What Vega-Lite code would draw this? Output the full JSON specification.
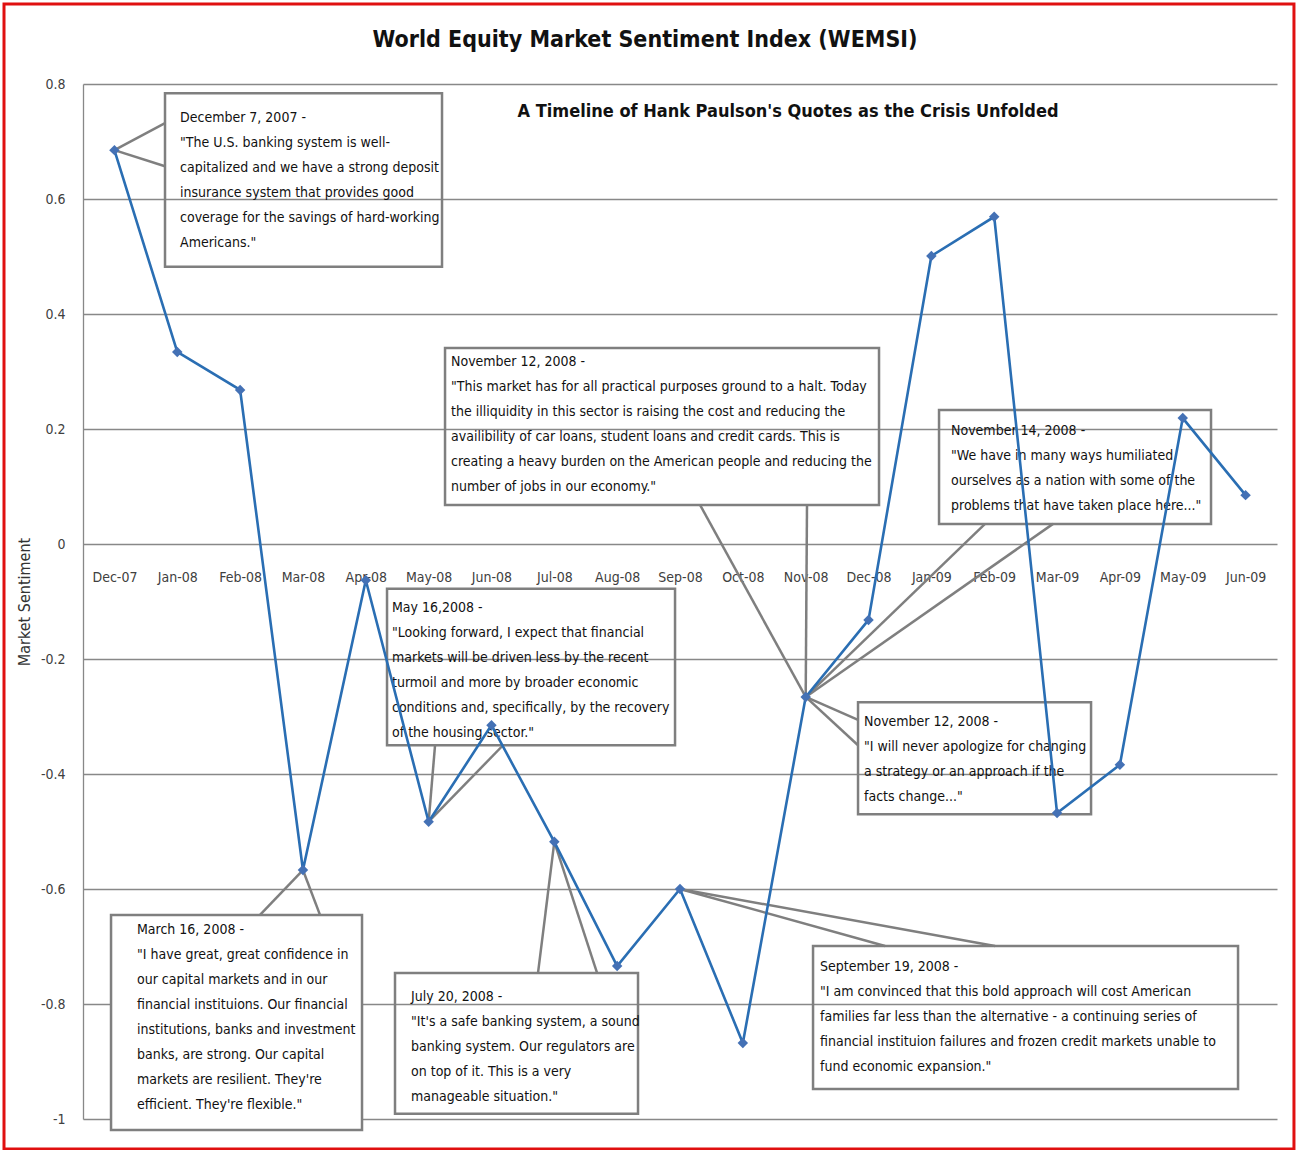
{
  "$schema": "https://vega.github.io/schema/vega-lite/v6.json",
  "width": 1194,
  "height": 1035,
  "autosize": {"type": "none"},
  "padding": {"left": 83, "top": 84, "right": 21, "bottom": 31},
  "background": "white",
  "config": {
    "font": "DejaVu Sans Condensed, sans-serif",
    "view": {"stroke": null},
    "axisY": {
      "titleFontSize": 16,
      "titleFontWeight": "normal",
      "titleColor": "#333333",
      "titlePadding": 8,
      "labelFontSize": 14,
      "labelColor": "#404040",
      "labelPadding": 18,
      "ticks": false,
      "domain": true,
      "domainColor": "#888888",
      "domainWidth": 1.3,
      "grid": true,
      "gridColor": "#888888",
      "gridWidth": 1.3
    }
  },
  "datasets": {
    "wemsi": [
      {"month": "Dec-07", "v": 0.685},
      {"month": "Jan-08", "v": 0.334},
      {"month": "Feb-08", "v": 0.268},
      {"month": "Mar-08", "v": -0.567},
      {"month": "Apr-08", "v": -0.063},
      {"month": "May-08", "v": -0.483},
      {"month": "Jun-08", "v": -0.315},
      {"month": "Jul-08", "v": -0.518},
      {"month": "Aug-08", "v": -0.734},
      {"month": "Sep-08", "v": -0.600},
      {"month": "Oct-08", "v": -0.868},
      {"month": "Nov-08", "v": -0.266},
      {"month": "Dec-08", "v": -0.132},
      {"month": "Jan-09", "v": 0.501},
      {"month": "Feb-09", "v": 0.569},
      {"month": "Mar-09", "v": -0.468},
      {"month": "Apr-09", "v": -0.384},
      {"month": "May-09", "v": 0.219},
      {"month": "Jun-09", "v": 0.085}
    ],
    "frame": [
      {"x1": -1.757, "x2": 18.77, "y1": 0.939, "y2": -1.052}
    ],
    "boxes": [
      {"quote": "December 7, 2007", "x1": 0.805, "x2": 5.213, "y1": 0.784, "y2": 0.482},
      {"quote": "November 12, 2008 (a)", "x1": 5.261, "x2": 12.167, "y1": 0.341, "y2": 0.068},
      {"quote": "November 14, 2008", "x1": 13.122, "x2": 17.450, "y1": 0.233, "y2": 0.035},
      {"quote": "May 16, 2008", "x1": 4.338, "x2": 8.921, "y1": -0.078, "y2": -0.350},
      {"quote": "November 12, 2008 (b)", "x1": 11.833, "x2": 15.541, "y1": -0.275, "y2": -0.470},
      {"quote": "March 16, 2008", "x1": -0.054, "x2": 3.940, "y1": -0.645, "y2": -1.019},
      {"quote": "July 20, 2008", "x1": 4.465, "x2": 8.332, "y1": -0.746, "y2": -0.991},
      {"quote": "September 19, 2008", "x1": 11.117, "x2": 17.880, "y1": -0.699, "y2": -0.948}
    ],
    "leaders": [
      {"x": 0, "y": 0.685, "x2": 0.805, "y2": 0.732},
      {"x": 0, "y": 0.685, "x2": 0.805, "y2": 0.657},
      {"x": 11, "y": -0.266, "x2": 9.319, "y2": 0.068},
      {"x": 11, "y": -0.266, "x2": 11.021, "y2": 0.068},
      {"x": 11, "y": -0.266, "x2": 13.854, "y2": 0.035},
      {"x": 11, "y": -0.266, "x2": 14.936, "y2": 0.035},
      {"x": 5, "y": -0.483, "x2": 5.102, "y2": -0.350},
      {"x": 5, "y": -0.483, "x2": 6.184, "y2": -0.350},
      {"x": 11, "y": -0.266, "x2": 11.833, "y2": -0.306},
      {"x": 11, "y": -0.266, "x2": 11.833, "y2": -0.350},
      {"x": 3, "y": -0.567, "x2": 2.317, "y2": -0.645},
      {"x": 3, "y": -0.567, "x2": 3.271, "y2": -0.645},
      {"x": 7, "y": -0.518, "x2": 6.741, "y2": -0.746},
      {"x": 7, "y": -0.518, "x2": 7.680, "y2": -0.746},
      {"x": 9, "y": -0.600, "x2": 12.263, "y2": -0.699},
      {"x": 9, "y": -0.600, "x2": 14.013, "y2": -0.699}
    ],
    "quotes": [
      {"tx": 1.044, "ty": 0.753, "lines": ["December 7, 2007 -", "\"The U.S. banking system is well-", "capitalized and we have a strong deposit", "insurance system that provides good", "coverage for the savings of hard-working", "Americans.\""]},
      {"tx": 5.356, "ty": 0.329, "lines": ["November 12, 2008 -", "\"This market has for all practical purposes ground to a halt.  Today", "the illiquidity in this sector is raising the cost and reducing the", "availibility of car loans, student loans and credit cards.  This is", "creating a heavy burden on the American people and reducing the", "number of jobs in our economy.\""]},
      {"tx": 13.313, "ty": 0.209, "lines": ["November 14, 2008 -", "\"We have in many ways humiliated", "ourselves as a nation with some of the", "problems that have taken place here...\""]},
      {"tx": 4.417, "ty": -0.099, "lines": ["May 16,2008 -", "\"Looking forward,  I expect that financial", "markets will be driven less by the recent", "turmoil and more by broader economic", "conditions and, specifically, by the recovery", "of the housing sector.\""]},
      {"tx": 11.928, "ty": -0.297, "lines": ["November 12, 2008 -", "\"I will never apologize for changing", "a strategy or an approach  if the", "facts change...\""]},
      {"tx": 0.359, "ty": -0.659, "lines": ["March 16, 2008 -", "\"I have great, great confidence in", "our capital markets and in our", "financial instituions.  Our financial", "institutions, banks and investment", "banks, are strong.  Our capital", "markets are resilient.  They're", "efficient.  They're flexible.\""]},
      {"tx": 4.720, "ty": -0.776, "lines": ["July 20, 2008 -", "\"It's a safe banking system, a sound", "banking system.  Our regulators are", "on top of it.  This is a very", "manageable situation.\""]},
      {"tx": 11.228, "ty": -0.723, "lines": ["September 19, 2008 -", "\"I am convinced that this bold approach will cost American", "families far less than the alternative  - a continuing series of", "financial instituion failures and frozen credit markets unable to", "fund economic expansion.\""]}
    ],
    "headings": [
      {"tx": 8.443, "ty": 0.8765, "size": "title", "text": "World Equity Market Sentiment Index (WEMSI)"},
      {"tx": 10.719, "ty": 0.751, "size": "subtitle", "text": "A Timeline of Hank Paulson's Quotes as the Crisis Unfolded"}
    ]
  },
  "layer": [
    {
      "layer": [
        {
          "data": {"name": "frame"},
          "mark": {"type": "rect", "fill": null, "stroke": "#E01010", "strokeWidth": 3},
          "encoding": {
            "x": {"field": "x1", "type": "quantitative", "scale": {"domain": [-0.5, 18.5], "nice": false, "zero": false}, "axis": null},
            "x2": {"field": "x2"},
            "y": {"field": "y1", "type": "quantitative", "scale": {"domain": [-1, 0.8], "nice": false, "zero": false}, "axis": {"title": "Market Sentiment", "values": [-1, -0.8, -0.6, -0.4, -0.2, 0, 0.2, 0.4, 0.6, 0.8], "labelExpr": "datum.value < 0 ? '-' + format(-datum.value, '~g') : format(datum.value, '~g')"}},
            "y2": {"field": "y2"}
          }
        },
        {
          "data": {"name": "boxes"},
          "transform": [{"filter": "datum.quote == 'March 16, 2008'"}],
          "mark": {"type": "rect", "fill": "white", "stroke": "#7F7F7F", "strokeWidth": 2.5},
          "encoding": {
            "x": {"field": "x1", "type": "quantitative", "scale": {"domain": [-0.5, 18.5], "nice": false, "zero": false}, "axis": null},
            "x2": {"field": "x2"},
            "y": {"field": "y1", "type": "quantitative", "scale": {"domain": [-1, 0.8], "nice": false, "zero": false}, "axis": {"title": "Market Sentiment", "values": [-1, -0.8, -0.6, -0.4, -0.2, 0, 0.2, 0.4, 0.6, 0.8], "labelExpr": "datum.value < 0 ? '-' + format(-datum.value, '~g') : format(datum.value, '~g')"}},
            "y2": {"field": "y2"}
          }
        },
        {
          "data": {"name": "boxes"},
          "transform": [{"filter": "datum.quote != 'March 16, 2008'"}],
          "mark": {"type": "rect", "fill": null, "stroke": "#7F7F7F", "strokeWidth": 2.5},
          "encoding": {
            "x": {"field": "x1", "type": "quantitative", "scale": {"domain": [-0.5, 18.5], "nice": false, "zero": false}, "axis": null},
            "x2": {"field": "x2"},
            "y": {"field": "y1", "type": "quantitative", "scale": {"domain": [-1, 0.8], "nice": false, "zero": false}, "axis": {"title": "Market Sentiment", "values": [-1, -0.8, -0.6, -0.4, -0.2, 0, 0.2, 0.4, 0.6, 0.8], "labelExpr": "datum.value < 0 ? '-' + format(-datum.value, '~g') : format(datum.value, '~g')"}},
            "y2": {"field": "y2"}
          }
        },
        {
          "data": {"name": "leaders"},
          "mark": {"type": "rule", "stroke": "#7F7F7F", "strokeWidth": 2.5},
          "encoding": {
            "x": {"field": "x", "type": "quantitative", "scale": {"domain": [-0.5, 18.5], "nice": false, "zero": false}, "axis": null},
            "x2": {"field": "x2"},
            "y": {"field": "y", "type": "quantitative", "scale": {"domain": [-1, 0.8], "nice": false, "zero": false}, "axis": {"title": "Market Sentiment", "values": [-1, -0.8, -0.6, -0.4, -0.2, 0, 0.2, 0.4, 0.6, 0.8], "labelExpr": "datum.value < 0 ? '-' + format(-datum.value, '~g') : format(datum.value, '~g')"}},
            "y2": {"field": "y2"}
          }
        },
        {
          "data": {"name": "quotes"},
          "mark": {"type": "text", "align": "left", "baseline": "top", "fontSize": 14, "lineHeight": 25, "color": "#111111"},
          "encoding": {
            "x": {"field": "tx", "type": "quantitative", "scale": {"domain": [-0.5, 18.5], "nice": false, "zero": false}, "axis": null},
            "y": {"field": "ty", "type": "quantitative", "scale": {"domain": [-1, 0.8], "nice": false, "zero": false}, "axis": {"title": "Market Sentiment", "values": [-1, -0.8, -0.6, -0.4, -0.2, 0, 0.2, 0.4, 0.6, 0.8], "labelExpr": "datum.value < 0 ? '-' + format(-datum.value, '~g') : format(datum.value, '~g')"}},
            "text": {"field": "lines", "type": "nominal"}
          }
        },
        {
          "data": {"name": "headings"},
          "transform": [{"filter": "datum.size == 'subtitle'"}],
          "mark": {"type": "text", "align": "center", "baseline": "middle", "fontSize": 18, "fontWeight": "bold", "color": "#111111"},
          "encoding": {
            "x": {"field": "tx", "type": "quantitative", "scale": {"domain": [-0.5, 18.5], "nice": false, "zero": false}, "axis": null},
            "y": {"field": "ty", "type": "quantitative", "scale": {"domain": [-1, 0.8], "nice": false, "zero": false}, "axis": {"title": "Market Sentiment", "values": [-1, -0.8, -0.6, -0.4, -0.2, 0, 0.2, 0.4, 0.6, 0.8], "labelExpr": "datum.value < 0 ? '-' + format(-datum.value, '~g') : format(datum.value, '~g')"}},
            "text": {"field": "text", "type": "nominal"}
          }
        },
        {
          "data": {"name": "headings"},
          "transform": [{"filter": "datum.size == 'title'"}],
          "mark": {"type": "text", "align": "center", "baseline": "middle", "fontSize": 23, "fontWeight": "bold", "color": "#111111"},
          "encoding": {
            "x": {"field": "tx", "type": "quantitative", "scale": {"domain": [-0.5, 18.5], "nice": false, "zero": false}, "axis": null},
            "y": {"field": "ty", "type": "quantitative", "scale": {"domain": [-1, 0.8], "nice": false, "zero": false}, "axis": {"title": "Market Sentiment", "values": [-1, -0.8, -0.6, -0.4, -0.2, 0, 0.2, 0.4, 0.6, 0.8], "labelExpr": "datum.value < 0 ? '-' + format(-datum.value, '~g') : format(datum.value, '~g')"}},
            "text": {"field": "text", "type": "nominal"}
          }
        }
      ]
    },
    {
      "data": {"name": "wemsi"},
      "encoding": {
        "x": {
          "field": "month",
          "type": "ordinal",
          "sort": null,
          "scale": {"type": "point", "padding": 0.5},
          "axis": {
            "title": null,
            "orient": "bottom",
            "offset": -575,
            "domain": false,
            "ticks": false,
            "grid": false,
            "labelAngle": 0,
            "labelPadding": 26,
            "labelFontSize": 14,
            "labelColor": "#404040"
          }
        },
        "y": {
          "field": "v",
          "type": "quantitative",
          "scale": {"domain": [-1, 0.8], "nice": false, "zero": false},
          "axis": {"title": "Market Sentiment", "values": [-1, -0.8, -0.6, -0.4, -0.2, 0, 0.2, 0.4, 0.6, 0.8], "labelExpr": "datum.value < 0 ? '-' + format(-datum.value, '~g') : format(datum.value, '~g')"}
        }
      },
      "layer": [
        {"mark": {"type": "line", "color": "#2A6EB3", "strokeWidth": 2.6}},
        {"mark": {"type": "point", "shape": "diamond", "filled": true, "size": 110, "color": "#4471B5", "opacity": 1}}
      ]
    }
  ],
  "resolve": {"scale": {"x": "independent"}}
}
